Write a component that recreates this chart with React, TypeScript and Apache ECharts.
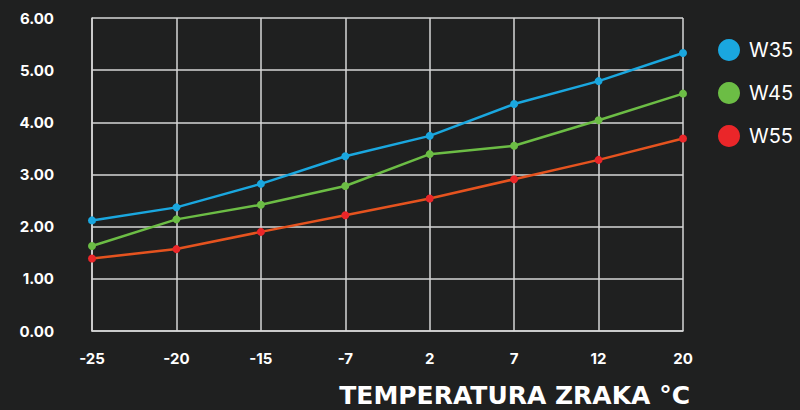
import React, { useEffect, useRef } from "react";
import * as echarts from "echarts";

const categories = ["-25", "-20", "-15", "-7", "2", "7", "12", "20"];
const w35 = [2.12, 2.37, 2.82, 3.35, 3.74, 4.35, 4.79, 5.33];
const w45 = [1.63, 2.14, 2.42, 2.78, 3.39, 3.55, 4.04, 4.55];
const w55 = [1.39, 1.57, 1.9, 2.22, 2.54, 2.91, 3.28, 3.69];
const axisTitle = "TEMPERATURA ZRAKA °C";

const FONT = "Inter, 'Noto Sans', sans-serif";
const GRID = "#d6d6d6";

export default function App() {
  const ref = useRef<HTMLDivElement>(null);
  useEffect(() => {
    if (!ref.current) return;
    document.body.style.margin = "0";
    const chart = echarts.init(ref.current, null, { renderer: "svg" });
    const mk = (name: string, data: number[], line: string, dot: string) => ({
      name,
      type: "line",
      data,
      symbol: "circle",
      symbolSize: 8,
      lineStyle: { color: line, width: 2.5 },
      itemStyle: { color: dot },
    });
    chart.setOption({
      animation: false,
      backgroundColor: "#1f2020",
      textStyle: { fontFamily: FONT },
      grid: { left: 92, right: 117, top: 18, bottom: 79 },
      legend: {
        orient: "vertical",
        left: 713,
        top: 34,
        itemWidth: 22,
        itemHeight: 22,
        itemGap: 21,
        icon: "circle",
        textStyle: { color: "#ffffff", fontSize: 20, fontFamily: FONT, padding: [0, 0, 0, 4] },
        data: ["W35", "W45", "W55"],
      },
      xAxis: {
        type: "category",
        data: categories,
        boundaryGap: false,
        axisLine: { show: true, lineStyle: { color: GRID, width: 1.5 } },
        axisTick: { show: false },
        splitLine: { show: true, lineStyle: { color: GRID, width: 1.5 } },
        axisLabel: { color: "#ffffff", fontSize: 15, fontWeight: "bold", margin: 20, fontFamily: FONT },
      },
      yAxis: {
        type: "value",
        min: 0,
        max: 6,
        interval: 1,
        axisLine: { show: true, lineStyle: { color: GRID, width: 1.5 } },
        axisTick: { show: false },
        splitLine: { show: true, lineStyle: { color: GRID, width: 1.5 } },
        axisLabel: {
          color: "#ffffff",
          fontSize: 15,
          fontWeight: "bold",
          margin: 38,
          fontFamily: FONT,
          formatter: (v: number) => v.toFixed(2),
        },
      },
      graphic: [
        {
          type: "text",
          x: 690,
          y: 395,
          style: {
            text: axisTitle,
            fill: "#ffffff",
            font: `bold 25px 'DejaVu Sans', sans-serif`,
            textAlign: "right",
            textVerticalAlign: "middle",
          },
        },
      ],
      series: [
        mk("W35", w35, "#1aa7df", "#1aa7df"),
        mk("W45", w45, "#6cbd45", "#6cbd45"),
        mk("W55", w55, "#e5531f", "#ea2629"),
      ],
    });
    return () => chart.dispose();
  }, []);
  return <div ref={ref} style={{ width: 800, height: 410 }} />;
}
